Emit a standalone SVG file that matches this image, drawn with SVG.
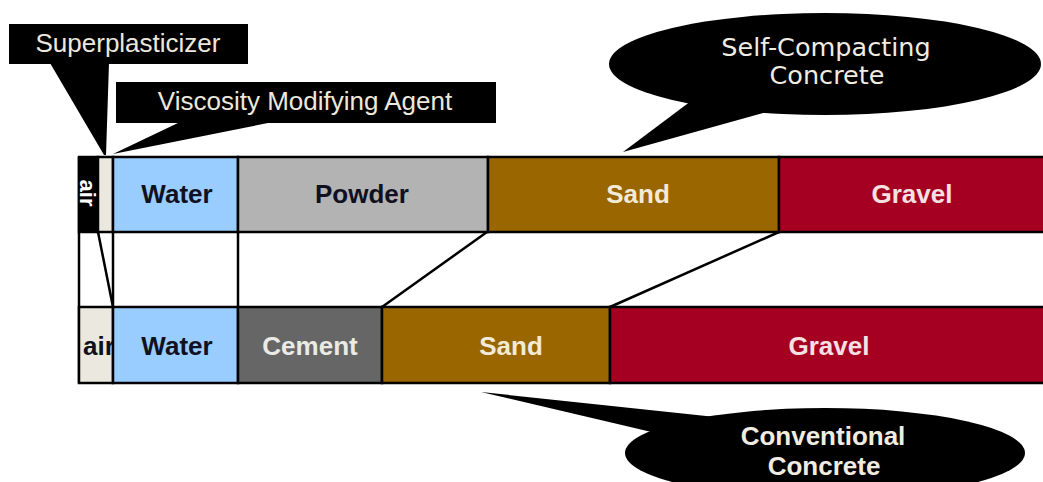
<svg xmlns="http://www.w3.org/2000/svg" width="1043" height="482" viewBox="0 0 1043 482">
<style>
.cell{stroke:#000;stroke-width:2.5}
.lbl{font-family:"Liberation Sans",Arial,sans-serif;font-weight:bold;font-size:26px;text-anchor:middle}
.dark{fill:#10101e}
.light{fill:#f3ead8}
.call{fill:#000}
.ctext{font-family:"Liberation Sans",Arial,sans-serif;font-size:26px;fill:#ece8dc;text-anchor:middle}
.etext{font-family:"DejaVu Sans",Verdana,sans-serif;font-size:25.5px;fill:#f0ece2;text-anchor:middle}
.btext{font-family:"Liberation Sans",Arial,sans-serif;font-weight:bold;font-size:26px;fill:#f0ece2;text-anchor:middle}
.conn{stroke:#000;stroke-width:2.5;fill:none}
</style>
<rect width="1043" height="482" fill="#fff"/>

<g id="connectors">
  <line class="conn" x1="79" y1="157" x2="79" y2="383"/>
  <line class="conn" x1="113" y1="232" x2="113" y2="307"/>
  <line class="conn" x1="238" y1="232" x2="238" y2="307"/>
  <line class="conn" x1="98" y1="232" x2="113" y2="307"/>
  <line class="conn" x1="487" y1="232" x2="382" y2="307"/>
  <line class="conn" x1="779" y1="232" x2="610" y2="307"/>
</g>

<g id="scc-row">
  <g id="scc-air">
    <rect class="cell" x="79" y="157" width="19" height="75" fill="#000"/>
    <text transform="translate(80,193) rotate(90)" font-family="Liberation Sans, Arial, sans-serif" font-weight="bold" font-size="22" fill="#fff" text-anchor="middle">air</text>
  </g>
  <g id="scc-sp"><rect class="cell" x="98" y="157" width="15" height="75" fill="#ebe8df"/></g>
  <g id="scc-water"><rect class="cell" x="113" y="157" width="125" height="75" fill="#99ccff"/><text class="lbl dark" x="177" y="203">Water</text></g>
  <g id="scc-powder"><rect class="cell" x="238" y="157" width="250" height="75" fill="#b3b3b3"/><text class="lbl dark" x="362" y="203">Powder</text></g>
  <g id="scc-sand"><rect class="cell" x="488" y="157" width="291" height="75" fill="#996600"/><text class="lbl light" x="638" y="203">Sand</text></g>
  <g id="scc-gravel"><rect class="cell" x="779" y="157" width="270" height="75" fill="#a50021"/><text class="lbl" x="912" y="203" fill="#f5e0e2">Gravel</text></g>
</g>

<g id="cc-row">
  <g id="cc-air">
    <rect class="cell" x="79" y="307" width="34" height="76" fill="#ebe8df"/>
    <text class="lbl dark" x="99" y="355">air</text>
  </g>
  <g id="cc-water"><rect class="cell" x="113" y="307" width="125" height="76" fill="#99ccff"/><text class="lbl dark" x="177" y="355">Water</text></g>
  <g id="cc-cement"><rect class="cell" x="238" y="307" width="144" height="76" fill="#666666"/><text class="lbl" x="310" y="355" fill="#ebebe6">Cement</text></g>
  <g id="cc-sand"><rect class="cell" x="382" y="307" width="228" height="76" fill="#996600"/><text class="lbl light" x="511" y="355">Sand</text></g>
  <g id="cc-gravel"><rect class="cell" x="610" y="307" width="439" height="76" fill="#a50021"/><text class="lbl" x="829" y="355" fill="#f5e0e2">Gravel</text></g>
</g>

<g id="superplasticizer">
  <rect class="call" x="9" y="24" width="239" height="40"/>
  <polygon class="call" points="50,63 109,63 106,155 104,155"/>
  <text class="ctext" x="128" y="52" font-size="26.5">Superplasticizer</text>
</g>

<g id="vma">
  <rect class="call" x="116" y="82" width="380" height="41"/>
  <polygon class="call" points="180,122 273,122 113,154"/>
  <text class="ctext" x="305" y="110">Viscosity Modifying Agent</text>
</g>

<g id="scc-label">
  <ellipse class="call" cx="825" cy="64" rx="216" ry="51"/>
  <polygon class="call" points="623,152 695,98 770,111"/>
  <text class="etext" x="826" y="56">Self-Compacting</text>
  <text class="etext" x="827" y="84">Concrete</text>
</g>

<g id="cc-label">
  <ellipse class="call" cx="825" cy="453" rx="200" ry="45"/>
  <polygon class="call" points="481,392 725,418 660,434"/>
  <text class="btext" x="823" y="445">Conventional</text>
  <text class="btext" x="824" y="475">Concrete</text>
</g>
</svg>
